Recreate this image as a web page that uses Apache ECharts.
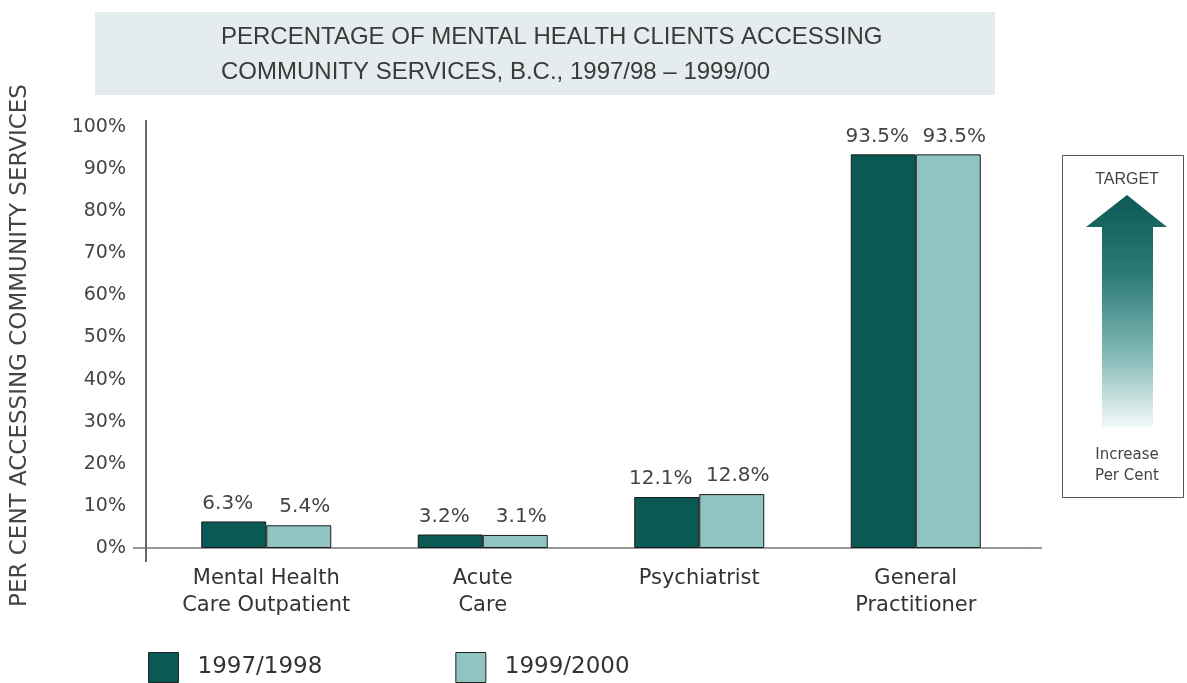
<!DOCTYPE html>
<html>
<head>
<meta charset="utf-8">
<script src="https://cdn.jsdelivr.net/npm/echarts@6/dist/echarts.min.js"></script>
<style>html,body{margin:0;padding:0;background:#fff}#c{width:1187px;height:683px}</style>
</head>
<body>
<div id="c"></div>
<script>
const categories = ['Mental Health\nCare Outpatient', 'Acute\nCare', 'Psychiatrist', 'General\nPractitioner'];
const seriesNames = ['1997/1998', '1999/2000'];
const values1997 = [6.3, 3.2, 12.1, 93.5];
const values1999 = [5.4, 3.1, 12.8, 93.5];
const yTicks = { min: 0, max: 100, interval: 10 };

const FONT = '"DejaVu Sans", sans-serif';
const chart = echarts.init(document.getElementById('c'), null, { renderer: 'canvas' });

const darkColor = '#0b5954';
const lightColor = '#8fc4c3';

chart.setOption({
  animation: false,
  backgroundColor: '#fff',
  title: {
    text: 'PERCENTAGE OF MENTAL HEALTH CLIENTS ACCESSING\nCOMMUNITY SERVICES, B.C., 1997/98 – 1999/00',
    left: 216, top: 15,
    textStyle: { fontFamily: '"Liberation Sans", Arial, sans-serif', fontWeight: 'normal', fontSize: 24, color: '#3a3a3a', lineHeight: 35 }
  },
  legend: {
    left: 143, top: 647,
    itemWidth: 30, itemHeight: 30, itemGap: 133,
    icon: 'rect',
    data: seriesNames,
    textStyle: { fontFamily: FONT, fontSize: 23, color: '#333', padding: [0, 0, 0, 14] },
    itemStyle: { borderColor: '#222', borderWidth: 1 }
  },
  grid: { left: 158, right: 163, top: 127, bottom: 135 },
  xAxis: {
    type: 'category',
    data: categories,
    axisLine: { show: true, lineStyle: { color: '#777', width: 1.5 } },
    axisTick: { show: false },
    axisLabel: { interval: 0, hideOverlap: false, fontFamily: FONT, fontSize: 21, color: '#333', lineHeight: 27, margin: 17 }
  },
  yAxis: {
    type: 'value',
    min: yTicks.min, max: yTicks.max, interval: yTicks.interval,
    offset: 12,
    name: 'PER CENT ACCESSING COMMUNITY SERVICES',
    nameLocation: 'middle',
    nameGap: 114,
    nameRotate: 90,
    nameTextStyle: { fontFamily: FONT, fontSize: 23, color: '#444', padding: [0, 16, 0, 0] },
    axisLine: { show: true, lineStyle: { color: '#666', width: 2 } },
    axisTick: { show: false },
    splitLine: { show: false },
    axisLabel: { formatter: '{value}%', fontFamily: FONT, fontSize: 19, color: '#444', margin: 20 }
  },
  series: [
    {
      name: seriesNames[0], type: 'bar', data: values1997,
      barWidth: 65, barGap: '0%',
      itemStyle: { color: darkColor, borderColor: '#1a1a1a', borderWidth: 1 },
      label: { show: true, position: 'top', distance: 8, offset: [-6, 0], formatter: '{c}%', fontFamily: FONT, fontSize: 20, color: '#444' }
    },
    {
      name: seriesNames[1], type: 'bar', data: values1999,
      barWidth: 65,
      itemStyle: { color: lightColor, borderColor: '#1a1a1a', borderWidth: 1 },
      label: { show: true, position: 'top', distance: 8, offset: [6, 0], formatter: '{c}%', fontFamily: FONT, fontSize: 20, color: '#444' }
    }
  ],
  graphic: [
    { type: 'rect', z: -10, shape: { x: 95, y: 12, width: 900, height: 83 }, style: { fill: '#e4ecee' } },
    { type: 'line', shape: { x1: 133, y1: 548, x2: 158, y2: 548 }, style: { stroke: '#777', lineWidth: 1.5 } },
    { type: 'line', shape: { x1: 1024, y1: 548, x2: 1042, y2: 548 }, style: { stroke: '#777', lineWidth: 1.5 } },
    { type: 'line', shape: { x1: 146, y1: 120, x2: 146, y2: 127 }, style: { stroke: '#666', lineWidth: 2 } },
    { type: 'line', shape: { x1: 146, y1: 548, x2: 146, y2: 562 }, style: { stroke: '#666', lineWidth: 2 } },
    { type: 'rect', shape: { x: 1062.5, y: 155.5, width: 121, height: 342 }, style: { fill: '#fff', stroke: '#555', lineWidth: 1 } },
    { type: 'text', style: { x: 1127, y: 180, text: 'TARGET', textAlign: 'center', textVerticalAlign: 'middle', fontFamily: '"Liberation Sans", sans-serif', fontSize: 16, fill: '#444' } },
    {
      type: 'polygon',
      shape: { points: [[1127, 195], [1167, 227], [1153, 227], [1153, 427], [1102, 427], [1102, 227], [1086, 227]] },
      style: {
        fill: new echarts.graphic.LinearGradient(0, 0, 0, 1, [
          { offset: 0, color: '#0b5a55' },
          { offset: 0.35, color: '#2e7c78' },
          { offset: 0.7, color: '#86bcb9' },
          { offset: 1, color: '#f2f9f8' }
        ])
      }
    },
    { type: 'text', style: { x: 1127, y: 455, text: 'Increase', textAlign: 'center', textVerticalAlign: 'middle', fontFamily: FONT, fontSize: 15, fill: '#444' } },
    { type: 'text', style: { x: 1127, y: 476, text: 'Per Cent', textAlign: 'center', textVerticalAlign: 'middle', fontFamily: FONT, fontSize: 15, fill: '#444' } }
  ]
});
</script>
</body>
</html>
